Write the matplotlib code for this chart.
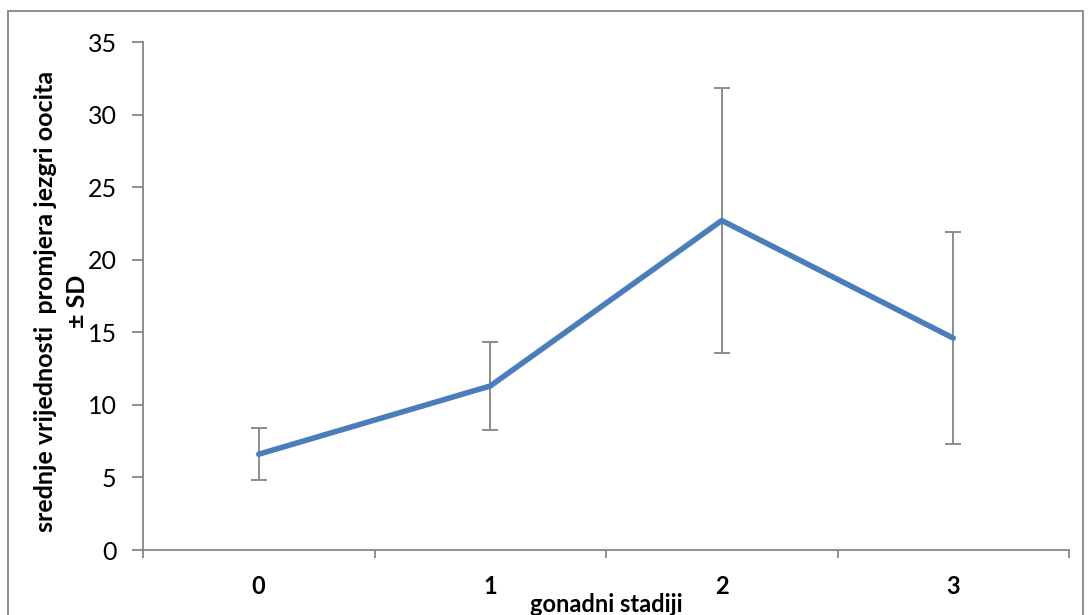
import numpy as np
import matplotlib.pyplot as plt
from matplotlib.patches import Rectangle

plt.rcParams['font.family'] = ['Lato', 'DejaVu Sans']

stages = ['0', '1', '2', '3']
means = [6.6, 11.3, 22.7, 14.6]
sd = [1.8, 3.0, 9.1, 7.3]

fig = plt.figure(figsize=(10.91, 6.15), dpi=100)
ax = fig.add_axes([143/1091, 65/615, (1069-143)/1091, (550-42)/615])

x = np.arange(len(stages))
ax.errorbar(x, means, yerr=sd, fmt='none', ecolor='#8c8c8c', elinewidth=1.4,
            capsize=6, capthick=1.4, zorder=2)
ax.plot(x, means, color='#4a7ebb', lw=4, solid_capstyle='round', zorder=3)

ax.set_xlim(-0.5, 3.5)
ax.set_ylim(0, 35)
ax.set_yticks(range(0, 36, 5))
ax.set_xticks(np.arange(-0.5, 3.6, 1))
ax.set_xticklabels([])
ax.set_xticks(x, minor=True)
ax.set_xticklabels(stages, minor=True, fontweight='bold', fontsize=17)
ax.tick_params(axis='x', which='minor', length=0, pad=18)
ax.tick_params(axis='x', which='major', length=6, color='#868686', width=1.3)
ax.tick_params(axis='y', length=8, color='#868686', width=1.3, labelsize=18, pad=11)

for s in ['top', 'right']:
    ax.spines[s].set_visible(False)
for s in ['left', 'bottom']:
    ax.spines[s].set_color('#868686')
    ax.spines[s].set_linewidth(1.3)

ax.set_xlabel('gonadni stadiji', fontweight='bold', fontsize=17, labelpad=0)
ax.xaxis.set_label_coords(0.5, -0.085)
ax.set_ylabel('srednje vrijednosti  promjera jezgri oocita\n± SD',
              fontweight='bold', fontsize=18, linespacing=1.5)
ax.yaxis.set_label_coords(-0.058, 0.49)

fig.patches.append(Rectangle((8/1091, -0.1), (1083-8)/1091, (615-11)/615 + 0.1,
                             transform=fig.transFigure, fill=False,
                             edgecolor='#868686', lw=1.3))

fig.savefig('out.png', dpi=100)
